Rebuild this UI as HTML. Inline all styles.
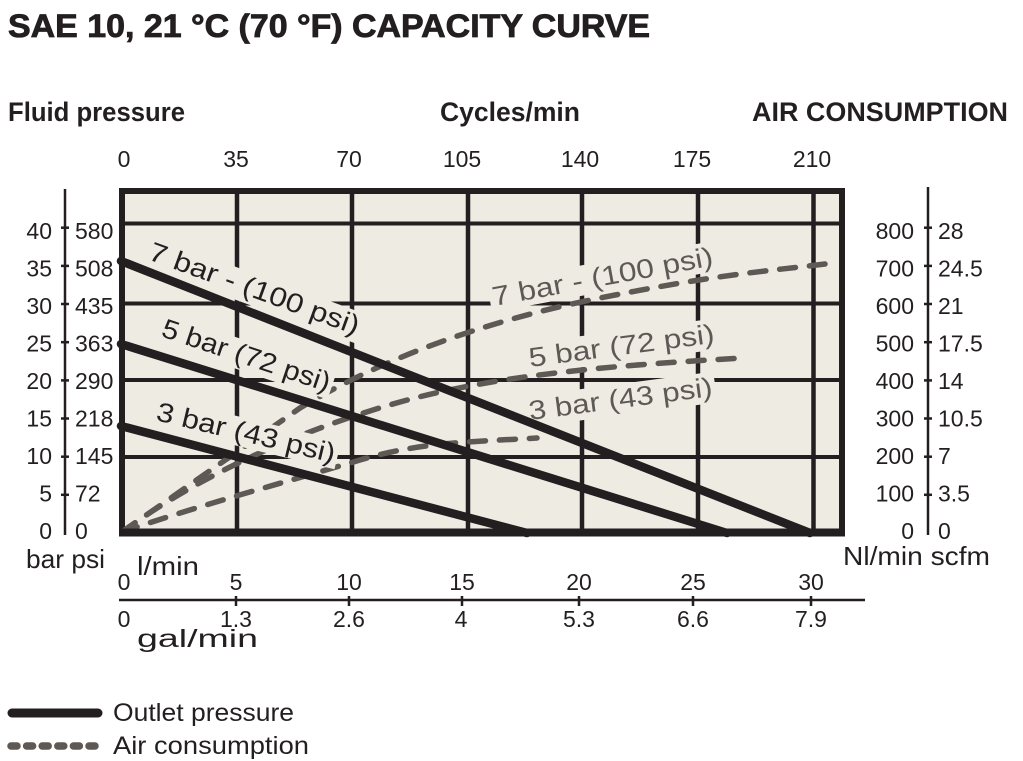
<!DOCTYPE html>
<html>
<head>
<meta charset="utf-8">
<style>
  html,body{margin:0;padding:0;background:#ffffff;}
  svg{display:block;}
  text{font-family:"Liberation Sans",Arial,sans-serif;fill:#231f20;}
</style>
</head>
<body>
<svg width="1023" height="761" viewBox="0 0 1023 761" xmlns="http://www.w3.org/2000/svg">
  <!-- Title and headers -->
  <text x="8" y="37" font-size="32" font-weight="bold" stroke="#231f20" stroke-width="0.8" textLength="642" lengthAdjust="spacingAndGlyphs">SAE 10, 21 °C (70 °F) CAPACITY CURVE</text>
  <text x="8" y="121" font-size="27" font-weight="bold" textLength="177" lengthAdjust="spacingAndGlyphs">Fluid pressure</text>
  <text x="440" y="121" font-size="27" font-weight="bold" textLength="140" lengthAdjust="spacingAndGlyphs">Cycles/min</text>
  <text x="752" y="121" font-size="27" font-weight="bold" textLength="256" lengthAdjust="spacingAndGlyphs">AIR CONSUMPTION</text>

  <!-- Top axis labels (cycles/min) -->
  <g font-size="23" text-anchor="middle">
    <text x="124" y="167">0</text>
    <text x="236" y="167">35</text>
    <text x="349" y="167">70</text>
    <text x="462" y="167">105</text>
    <text x="580" y="167">140</text>
    <text x="692" y="167">175</text>
    <text x="812" y="167">210</text>
  </g>

  <!-- Plot background & frame -->
  <rect x="122" y="191" width="720" height="341.5" fill="#eeebe3" stroke="#231f20" stroke-width="6"/>

  <!-- Grid -->
  <g stroke="#231f20" stroke-width="4.5">
    <line x1="237" y1="191" x2="237" y2="532"/>
    <line x1="352" y1="191" x2="352" y2="532"/>
    <line x1="468" y1="191" x2="468" y2="532"/>
    <line x1="582" y1="191" x2="582" y2="532"/>
    <line x1="698" y1="191" x2="698" y2="532"/>
    <line x1="813.5" y1="191" x2="813.5" y2="532"/>
  </g>
  <g stroke="#231f20" stroke-width="4">
    <line x1="122" y1="223.5" x2="842" y2="223.5"/>
    <line x1="122" y1="303.5" x2="842" y2="303.5"/>
    <line x1="122" y1="380" x2="842" y2="380"/>
    <line x1="122" y1="457" x2="842" y2="457"/>
  </g>

  <!-- Label boxes for air consumption labels -->
  <g fill="#eeebe3">
    <g transform="translate(494,306) rotate(-10.5)"><rect x="-3" y="-24" width="230" height="30"/></g>
    <g transform="translate(530,367) rotate(-7.5)"><rect x="-3" y="-24" width="193" height="31"/></g>
    <g transform="translate(530,420) rotate(-7.5)"><rect x="-3" y="-24" width="191" height="31"/></g>
  </g>

  <!-- Air consumption dashed curves -->
  <g fill="none" stroke="#5e5955" stroke-width="5.5" stroke-linecap="round" stroke-dasharray="16 14">
    <path d="M122,532 L300,408 C380,360 480,322 600,298 S760,272 825,264"/>
    <path d="M122,532 C200,475 300,430 400,402 S620,365 743,358"/>
    <path d="M122,532 C200,505 300,478 360,460 S470,442 537,438"/>
  </g>

  <!-- Label boxes for outlet pressure labels -->
  <g fill="#eeebe3">
    <g transform="translate(147,259) rotate(20)"><rect x="-3" y="-23" width="228" height="31"/></g>
    <g transform="translate(160,336) rotate(18.5)"><rect x="-3" y="-23" width="182" height="30"/></g>
    <g transform="translate(155,420) rotate(13.5)"><rect x="-3" y="-23" width="189" height="29"/></g>
  </g>

  <!-- Outlet pressure solid lines -->
  <g stroke="#231f20" stroke-width="8.5" stroke-linecap="round" fill="none">
    <line x1="121" y1="261" x2="810" y2="533"/>
    <line x1="121" y1="344" x2="727" y2="533"/>
    <line x1="121" y1="426" x2="527" y2="533"/>
  </g>

  <!-- bottom frame edge (thicker) -->
  <line x1="119" y1="532.5" x2="845" y2="532.5" stroke="#231f20" stroke-width="8"/>

  <!-- Solid line labels -->
  <g font-size="27">
    <text transform="translate(147,259) rotate(20)" textLength="222" lengthAdjust="spacingAndGlyphs">7 bar - (100 psi)</text>
    <text transform="translate(160,336) rotate(18.5)" textLength="176" lengthAdjust="spacingAndGlyphs">5 bar (72 psi)</text>
    <text transform="translate(155,420) rotate(13.5)" textLength="183" lengthAdjust="spacingAndGlyphs">3 bar (43 psi)</text>
  </g>
  <!-- Dashed line labels -->
  <g font-size="27">
    <text transform="translate(494,306) rotate(-10.5)" textLength="224" lengthAdjust="spacingAndGlyphs" style="fill:#5e5955">7 bar - (100 psi)</text>
    <text transform="translate(530,367) rotate(-7.5)" textLength="187" lengthAdjust="spacingAndGlyphs" style="fill:#5e5955">5 bar (72 psi)</text>
    <text transform="translate(530,420) rotate(-7.5)" textLength="185" lengthAdjust="spacingAndGlyphs" style="fill:#5e5955">3 bar (43 psi)</text>
  </g>

  <!-- Left axis -->
  <g stroke="#231f20" stroke-width="2.5">
    <line x1="65" y1="189" x2="65" y2="535"/>
    <line x1="61" y1="227.7" x2="69" y2="227.7"/>
    <line x1="61" y1="265.9" x2="69" y2="265.9"/>
    <line x1="61" y1="304" x2="69" y2="304"/>
    <line x1="61" y1="342.2" x2="69" y2="342.2"/>
    <line x1="61" y1="380.4" x2="69" y2="380.4"/>
    <line x1="61" y1="418.5" x2="69" y2="418.5"/>
    <line x1="61" y1="456.7" x2="69" y2="456.7"/>
    <line x1="61" y1="494.8" x2="69" y2="494.8"/>
  </g>
  <g font-size="23" text-anchor="end">
    <text x="52" y="239">40</text>
    <text x="52" y="276.5">35</text>
    <text x="52" y="314">30</text>
    <text x="52" y="351.5">25</text>
    <text x="52" y="389">20</text>
    <text x="52" y="426.5">15</text>
    <text x="52" y="464">10</text>
    <text x="52" y="501.5">5</text>
    <text x="52" y="539">0</text>
  </g>
  <g font-size="23">
    <text x="75" y="239">580</text>
    <text x="75" y="276.5">508</text>
    <text x="75" y="314">435</text>
    <text x="75" y="351.5">363</text>
    <text x="75" y="389">290</text>
    <text x="75" y="426.5">218</text>
    <text x="75" y="464">145</text>
    <text x="75" y="501.5">72</text>
    <text x="75" y="539">0</text>
  </g>
  <text x="26" y="568" font-size="26" textLength="79" lengthAdjust="spacingAndGlyphs">bar psi</text>

  <!-- Right axis -->
  <g stroke="#231f20" stroke-width="2.5">
    <line x1="928" y1="187" x2="928" y2="535"/>
    <line x1="924" y1="227.7" x2="932" y2="227.7"/>
    <line x1="924" y1="265.9" x2="932" y2="265.9"/>
    <line x1="924" y1="304" x2="932" y2="304"/>
    <line x1="924" y1="342.2" x2="932" y2="342.2"/>
    <line x1="924" y1="380.4" x2="932" y2="380.4"/>
    <line x1="924" y1="418.5" x2="932" y2="418.5"/>
    <line x1="924" y1="456.7" x2="932" y2="456.7"/>
    <line x1="924" y1="494.8" x2="932" y2="494.8"/>
  </g>
  <g font-size="23" text-anchor="end">
    <text x="914" y="239">800</text>
    <text x="914" y="276.5">700</text>
    <text x="914" y="314">600</text>
    <text x="914" y="351.5">500</text>
    <text x="914" y="389">400</text>
    <text x="914" y="426.5">300</text>
    <text x="914" y="464">200</text>
    <text x="914" y="501.5">100</text>
    <text x="914" y="539">0</text>
  </g>
  <g font-size="23">
    <text x="938" y="239">28</text>
    <text x="938" y="276.5">24.5</text>
    <text x="938" y="314">21</text>
    <text x="938" y="351.5">17.5</text>
    <text x="938" y="389">14</text>
    <text x="938" y="426.5">10.5</text>
    <text x="938" y="464">7</text>
    <text x="938" y="501.5">3.5</text>
    <text x="938" y="539">0</text>
  </g>
  <text x="843" y="565" font-size="26" textLength="147" lengthAdjust="spacingAndGlyphs">Nl/min scfm</text>

  <!-- Bottom axis -->
  <text x="137" y="575" font-size="26" textLength="62" lengthAdjust="spacingAndGlyphs">l/min</text>
  <g font-size="23" text-anchor="middle">
    <text x="124" y="590">0</text>
    <text x="236" y="590">5</text>
    <text x="349" y="590">10</text>
    <text x="462" y="590">15</text>
    <text x="579" y="590">20</text>
    <text x="693" y="590">25</text>
    <text x="811" y="590">30</text>
  </g>
  <g stroke="#231f20" stroke-width="2.5">
    <line x1="119" y1="600" x2="865" y2="600"/>
    <line x1="236" y1="596" x2="236" y2="606"/>
    <line x1="349" y1="596" x2="349" y2="606"/>
    <line x1="462" y1="596" x2="462" y2="606"/>
    <line x1="579" y1="596" x2="579" y2="606"/>
    <line x1="693" y1="596" x2="693" y2="606"/>
    <line x1="811" y1="596" x2="811" y2="606"/>
  </g>
  <g font-size="23" text-anchor="middle">
    <text x="124" y="627">0</text>
    <text x="236" y="627">1.3</text>
    <text x="349" y="627">2.6</text>
    <text x="461" y="627">4</text>
    <text x="579" y="627">5.3</text>
    <text x="693" y="627">6.6</text>
    <text x="811" y="627">7.9</text>
  </g>
  <text x="137" y="647" font-size="25" textLength="121" lengthAdjust="spacingAndGlyphs">gal/min</text>

  <!-- Legend -->
  <line x1="12" y1="713" x2="98" y2="713" stroke="#231f20" stroke-width="9" stroke-linecap="round"/>
  <line x1="11" y1="746" x2="99" y2="746" stroke="#5e5955" stroke-width="7.5" stroke-linecap="round" stroke-dasharray="6 9.6"/>
  <text x="113" y="721" font-size="25" textLength="181" lengthAdjust="spacingAndGlyphs">Outlet pressure</text>
  <text x="113" y="754" font-size="25" textLength="196" lengthAdjust="spacingAndGlyphs">Air consumption</text>
</svg>
</body>
</html>
